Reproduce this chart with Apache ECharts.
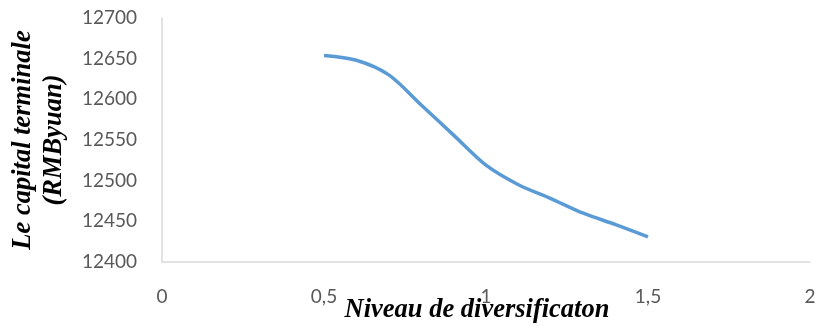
<!DOCTYPE html>
<html>
<head>
<meta charset="utf-8">
<script src="https://cdn.jsdelivr.net/npm/echarts@6/dist/echarts.min.js"></script>
<style>
  html, body { margin: 0; padding: 0; background: #fff; }
  #main { width: 815px; height: 326px; }
</style>
</head>
<body>
<div id="main"></div>
<script>
  // niveau de diversification (x) et capital terminal (y)
  var niveaux = [0.5, 0.6, 0.7, 0.8, 0.9, 1.0, 1.1, 1.2, 1.3, 1.4, 1.5];
  var capital = [12654, 12648, 12630, 12593, 12556, 12519, 12495, 12478, 12460, 12446, 12431];
  var xTicks = [0, 0.5, 1, 1.5, 2];
  var yTicks = [12400, 12450, 12500, 12550, 12600, 12650, 12700];

  var myChart = echarts.init(document.getElementById('main'));

  var points = niveaux.map(function (x, i) { return [x, capital[i]]; });

  var option = {
    animation: false,
    grid: { left: 162, right: 5, top: 18, bottom: 64, outerBoundsMode: 'none' },
    xAxis: {
      type: 'value',
      min: xTicks[0],
      max: xTicks[xTicks.length - 1],
      interval: 0.5,
      name: 'Niveau de diversificaton',
      nameLocation: 'middle',
      nameGap: 35,
      nameMoveOverlap: false,
      nameTextStyle: {
        fontFamily: 'Liberation Serif',
        fontStyle: 'italic',
        fontWeight: 'bold',
        fontSize: 26.5,
        color: '#000',
        padding: [0, 18, 0, 0]
      },
      axisLine: { show: true, lineStyle: { color: '#d9d9d9', width: 1.5 } },
      axisTick: { show: false },
      splitLine: { show: false },
      axisLabel: {
        margin: 25,
        fontFamily: 'Lato',
        fontSize: 19,
        color: '#595959',
        // virgule décimale
        formatter: function (v) { return String(v).replace('.', ','); }
      }
    },
    yAxis: {
      type: 'value',
      min: yTicks[0],
      max: yTicks[yTicks.length - 1],
      interval: 50,
      name: 'Le capital terminale\n(RMByuan)',
      nameLocation: 'middle',
      nameRotate: 90,
      nameGap: 92,
      nameMoveOverlap: false,
      nameTextStyle: {
        fontFamily: 'Liberation Serif',
        fontStyle: 'italic',
        fontWeight: 'bold',
        fontSize: 26.5,
        lineHeight: 31,
        color: '#000'
      },
      axisLine: { show: true, lineStyle: { color: '#d9d9d9', width: 1.5 } },
      axisTick: { show: false },
      splitLine: { show: false },
      axisLabel: {
        margin: 25,
        fontFamily: 'Lato',
        fontSize: 19,
        color: '#595959',
        formatter: function (v) { return String(v); }
      }
    },
    series: [
      {
        type: 'line',
        data: points,
        smooth: 0.3,
        showSymbol: false,
        lineStyle: { color: '#5b9bd5', width: 3.5 }
      }
    ]
  };

  myChart.setOption(option);
</script>
</body>
</html>
